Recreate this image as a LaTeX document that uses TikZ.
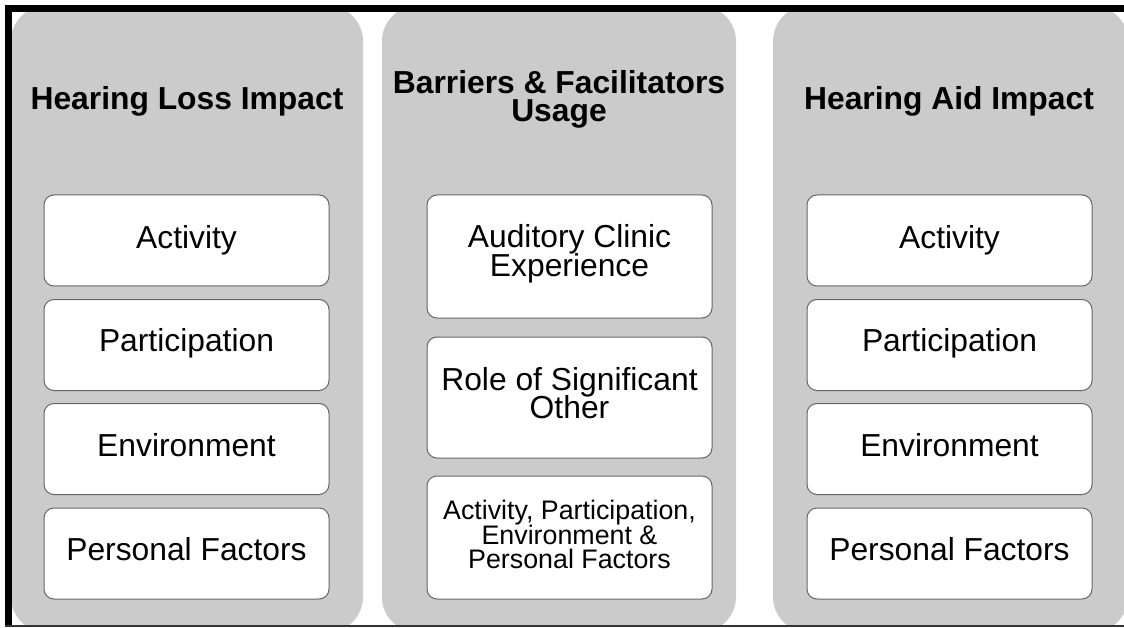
\documentclass[tikz,border=0pt]{standalone}
\usepackage{fontspec}
\setmainfont{Liberation Sans}
\definecolor{panelgray}{HTML}{CBCBCB}
\definecolor{boxgray}{HTML}{666666}
\begin{document}
\begin{tikzpicture}[x=1pt,y=-1pt,
  panel/.style={fill=panelgray, rounded corners=35pt},
  box/.style={draw=boxgray, fill=white, rounded corners=10pt, line width=1pt, inner sep=0pt, minimum width=285pt},
  ttl/.style={inner sep=0pt, anchor=base, font=\fontsize{31.8}{28}\selectfont\bfseries},
  lbl/.style={inner sep=0pt, anchor=base, font=\fontsize{31.8}{28}\selectfont},
  slbl/.style={inner sep=0pt, anchor=base, font=\fontsize{26.8}{24}\selectfont}]
\useasboundingbox (0,0) rectangle (1124,628);
\fill[white] (0,0) rectangle (1124,628);
% panels
\begin{scope}
  \clip (12,12) rectangle (1124,626);
  \fill[panel] (11,6) rectangle (363,632);
  \fill[panel] (382,6) rectangle (736,632);
  \fill[panel] (773,6) rectangle (1128,632);
\end{scope}
% frame
\draw[line width=7pt] (8.5,626) -- (8.5,8.5) -- (1124,8.5);
\draw[line width=1.5pt, black!80] (5,626) -- (1124,626);
% titles
\node[ttl] (t1) at (187,110) {Hearing Loss Impact};
\node[ttl] (t2a) at (559,93.3) {Barriers \& Facilitators};
\node[ttl] (t2b) at (559,121.7) {Usage};
\node[ttl] (t3) at (949,110) {Hearing Aid Impact};
% left boxes
\node[box, minimum height=91pt] (l1) at (186.5,240.5) {};
\node[box, minimum height=91pt] (l2) at (186.5,345) {};
\node[box, minimum height=91pt] (l3) at (186.5,449) {};
\node[box, minimum height=91pt] (l4) at (186.5,553.5) {};
\node[lbl] (l1t) at (186.5,248.3) {Activity};
\node[lbl] (l2t) at (186.5,351.7) {Participation};
\node[lbl] (l3t) at (186.5,456.7) {Environment};
\node[lbl] (l4t) at (186.5,560.7) {Personal Factors};
% middle boxes
\node[box, minimum height=123pt] (m1) at (569.5,256.5) {};
\node[box, minimum height=121pt] (m2) at (569.5,397.5) {};
\node[box, minimum height=123pt] (m3) at (569.5,537.5) {};
\node[lbl] (m1a) at (569.5,248) {Auditory Clinic};
\node[lbl] (m1b) at (569.5,276.5) {Experience};
\node[lbl] (m2a) at (569.5,390) {Role of Significant};
\node[lbl] (m2b) at (569.5,418) {Other};
\node[slbl] (m3a) at (569.5,519.5) {Activity, Participation,};
\node[slbl] (m3b) at (569.5,544) {Environment \&};
\node[slbl] (m3c) at (569.5,568.5) {Personal Factors};
% right boxes
\node[box, minimum height=91pt] (r1) at (949.5,240.5) {};
\node[box, minimum height=91pt] (r2) at (949.5,345) {};
\node[box, minimum height=91pt] (r3) at (949.5,449) {};
\node[box, minimum height=91pt] (r4) at (949.5,553.5) {};
\node[lbl] (r1t) at (949.5,248.3) {Activity};
\node[lbl] (r2t) at (949.5,351.7) {Participation};
\node[lbl] (r3t) at (949.5,456.7) {Environment};
\node[lbl] (r4t) at (949.5,560.7) {Personal Factors};
\end{tikzpicture}
\end{document}
